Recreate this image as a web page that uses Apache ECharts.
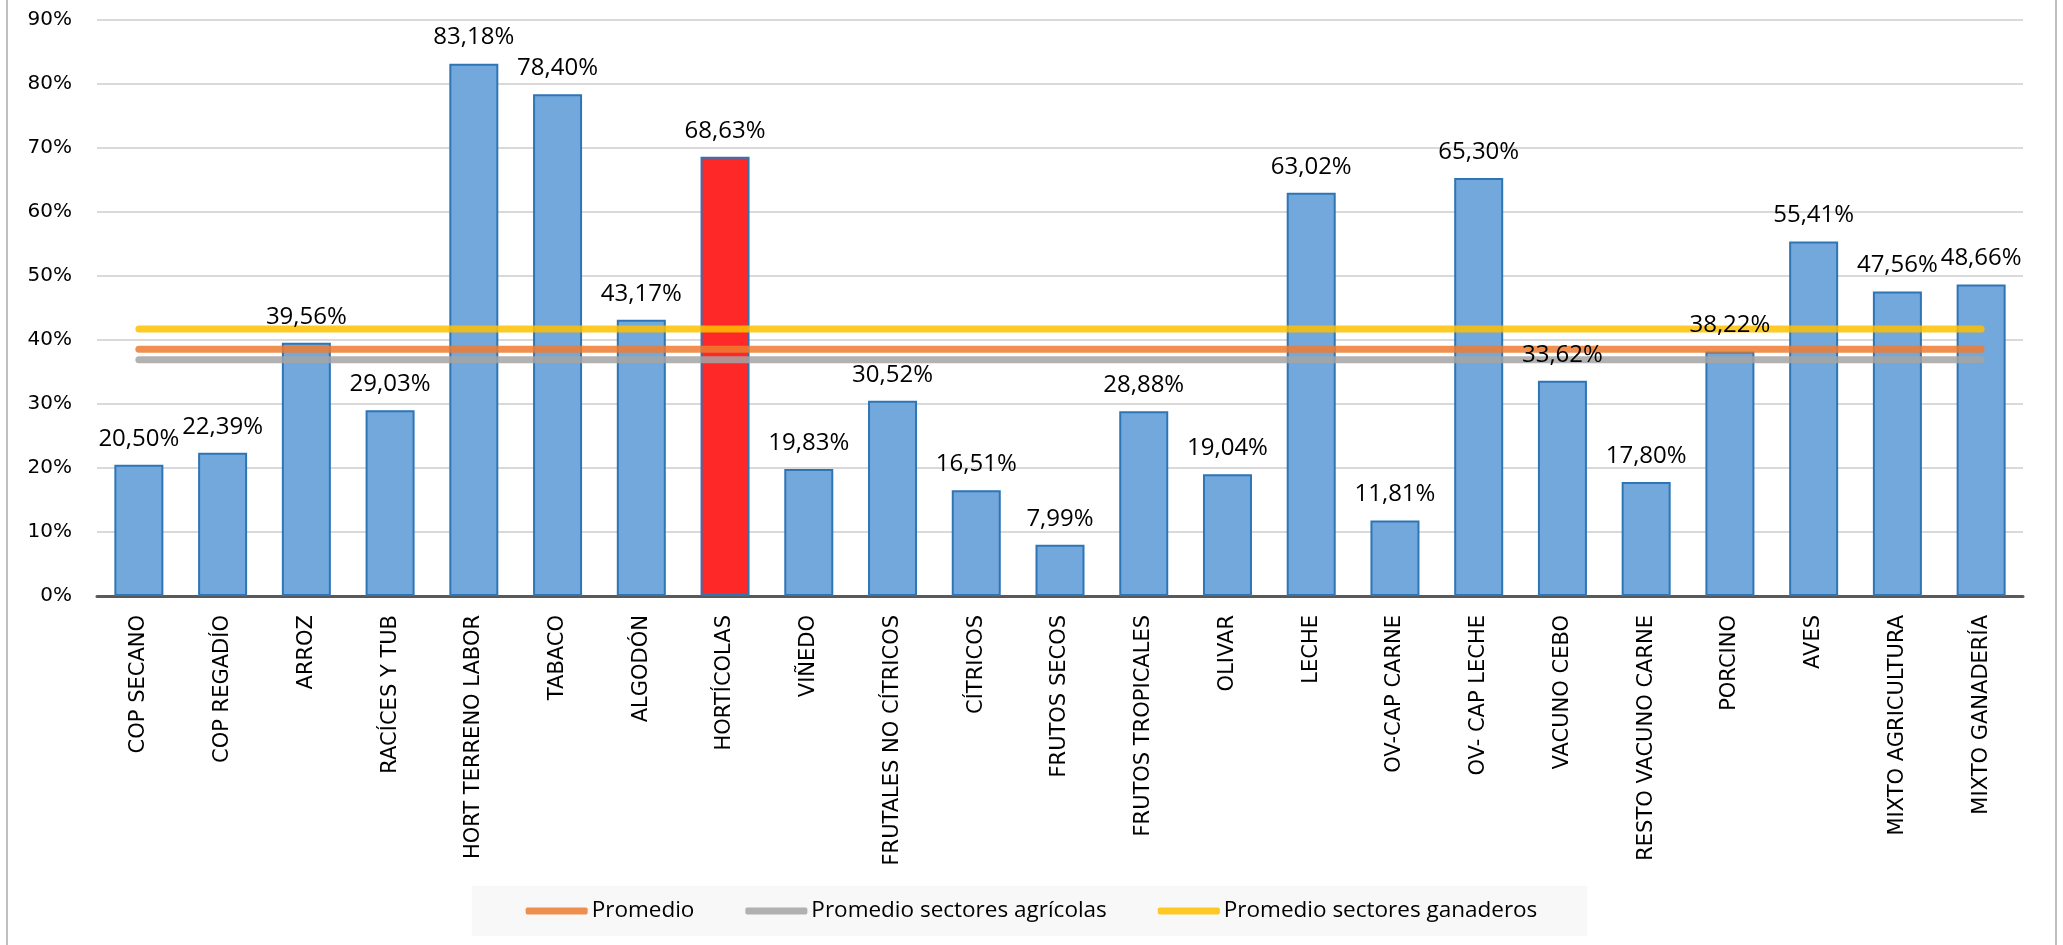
<!DOCTYPE html>
<html>
<head>
<meta charset="utf-8">
<script src="https://cdn.jsdelivr.net/npm/echarts@6/dist/echarts.min.js"></script>
<style>
html,body{margin:0;padding:0;background:#fff;}
#chart{width:2063px;height:945px;}
</style>
</head>
<body>
<div id="chart"></div>
<script>
const categories = ['COP SECANO','COP REGADÍO','ARROZ','RACÍCES Y TUB','HORT TERRENO LABOR','TABACO','ALGODÓN','HORTÍCOLAS','VIÑEDO','FRUTALES NO CÍTRICOS','CÍTRICOS','FRUTOS SECOS','FRUTOS TROPICALES','OLIVAR','LECHE','OV-CAP CARNE','OV- CAP LECHE','VACUNO CEBO','RESTO VACUNO CARNE','PORCINO','AVES','MIXTO AGRICULTURA','MIXTO GANADERÍA'];
const values = [20.50,22.39,39.56,29.03,83.18,78.40,43.17,68.63,19.83,30.52,16.51,7.99,28.88,19.04,63.02,11.81,65.30,33.62,17.80,38.22,55.41,47.56,48.66];
const highlighted = 'HORTÍCOLAS';
const promedio = 38.55;
const promedioAgricolas = 36.9;
const promedioGanaderos = 41.7;
const yTicks = {min: 0, max: 90, interval: 10};

const chart = echarts.init(document.getElementById('chart'));
const first = categories[0], last = categories[categories.length - 1];
function avgLine(name, v, color) {
  return {
    name: name, type: 'line', z: 4,
    data: [[first, v], [last, v]],
    symbol: 'none', silent: true,
    color: color,
    lineStyle: {width: 7, cap: 'round', color: color},
    itemStyle: {color: color}
  };
}
const labelStyle = {
  show: true, position: 'top', distance: 14,
  fontFamily: 'Open Sans', fontSize: 24, color: '#000',
  formatter: p => p.value.toFixed(2).replace('.', ',') + '%'
};
const option = {
  backgroundColor: '#ffffff',
  animation: false,
  grid: {left: 97, right: 40, top: 20, bottom: 349, containLabel: false},
  xAxis: {
    type: 'category', data: categories,
    axisLine: {lineStyle: {color: '#595959', width: 3}},
    axisTick: {show: false},
    axisLabel: {rotate: 90, interval: 0, margin: 19, fontSize: 21, fontFamily: 'DejaVu Sans', color: '#000'}
  },
  yAxis: {
    type: 'value', min: yTicks.min, max: yTicks.max, interval: yTicks.interval,
    axisLine: {show: false}, axisTick: {show: false},
    splitLine: {lineStyle: {color: '#d9d9d9', width: 2}},
    axisLabel: {formatter: '{value}%', margin: 25, fontSize: 20, fontFamily: 'DejaVu Sans', color: '#000'}
  },
  legend: {
    left: 'center', top: 886,
    data: ['Promedio', 'Promedio sectores agrícolas', 'Promedio sectores ganaderos'],
    icon: 'roundRect', itemWidth: 62, itemHeight: 7, itemGap: 51,
    backgroundColor: '#f8f8f8',
    padding: [13, 50, 13, 54],
    textStyle: {fontFamily: 'Open Sans', fontSize: 22.5, color: '#000', lineHeight: 24, padding: [0, 0, 0, -1]}
  },
  graphic: [
    {type: 'line', shape: {x1: 7, y1: 0, x2: 7, y2: 945}, style: {stroke: '#bfbfbf', lineWidth: 2}},
    {type: 'line', shape: {x1: 2056, y1: 0, x2: 2056, y2: 945}, style: {stroke: '#bfbfbf', lineWidth: 2}}
  ],
  series: [
    {
      name: 'Sector', type: 'bar', z: 2,
      barWidth: 49,
      data: values.map((v, i) => ({value: v, itemStyle: {color: categories[i] === highlighted ? '#ff2828' : '#72a8dc'}})),
      itemStyle: {borderColor: '#2e75b6', borderWidth: 2},
      label: {show: false}
    },
    avgLine('Promedio', promedio, 'rgba(237,125,49,0.85)'),
    avgLine('Promedio sectores agrícolas', promedioAgricolas, 'rgba(165,165,165,0.85)'),
    avgLine('Promedio sectores ganaderos', promedioGanaderos, 'rgba(255,192,0,0.85)'),
    {
      name: 'Etiquetas', type: 'bar', z: 6, silent: true,
      barWidth: 49, barGap: '-100%',
      data: values,
      itemStyle: {color: 'rgba(0,0,0,0)', borderWidth: 0},
      label: labelStyle
    }
  ]
};
chart.setOption(option);
</script>
</body>
</html>
